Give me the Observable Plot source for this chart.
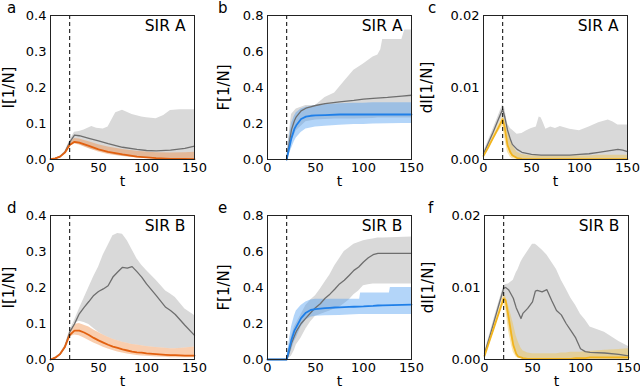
<!DOCTYPE html>
<html><head><meta charset="utf-8">
<script src="https://cdn.jsdelivr.net/npm/d3@7"></script>
<script src="https://cdn.jsdelivr.net/npm/@observablehq/plot@0.6"></script>
<style>
body{margin:0;background:#fff;}
#wrap{position:relative;width:640px;height:388px;overflow:hidden;font-family:"DejaVu Sans",sans-serif;}
#wrap svg{position:absolute;overflow:visible;}
.letter{position:absolute;font-size:15px;color:#000;line-height:1;}
</style></head>
<body><div id="wrap"></div>
<script>
// ---------- data ----------
const interventionT = 20;
const xTicks = [0, 50, 100, 150];
const panelLetters = ["a", "b", "c", "d", "e", "f"];
const panelTitles = ["SIR A", "SIR A", "SIR A", "SIR B", "SIR B", "SIR B"];
const yLabels = ["I[1/N]", "F[1/N]", "dI[1/N]", "I[1/N]", "F[1/N]", "dI[1/N]"];
const yTicksI = [0, 0.1, 0.2, 0.3, 0.4];
const yTicksF = [0, 0.2, 0.4, 0.6, 0.8];
const yTicksD = [0, 0.01, 0.02];

// panel a : I, SIR A
const aT = [0,5,10,15,20,25,30,40,50,60,75,90,100,110,125,140,150];
const aGray = [0.001,0.003,0.008,0.02,0.048,0.068,0.066,0.059,0.052,0.044,0.034,0.028,0.025,0.024,0.026,0.031,0.037];
const aOrange = [0.001,0.003,0.008,0.019,0.04,0.049,0.047,0.038,0.028,0.021,0.014,0.008,0.006,0.004,0.002,0.0015,0.001];
const aOrangeHi = [0.001,0.003,0.009,0.021,0.045,0.058,0.057,0.049,0.041,0.035,0.028,0.023,0.021,0.019,0.018,0.019,0.02];
const aOrangeLo = [0.001,0.002,0.007,0.017,0.036,0.043,0.04,0.03,0.021,0.014,0.008,0.004,0.003,0.002,0.001,0,0];
const aGT = [0,5,10,15,20,25,30,35,43,48,55,60,65,68,75,85,95,100,110,118,125,135,150];
const aGrayHi = [0.001,0.003,0.009,0.022,0.052,0.076,0.078,0.082,0.092,0.087,0.085,0.09,0.115,0.13,0.137,0.125,0.118,0.116,0.113,0.122,0.136,0.138,0.138];
const aGrayLo = [0.001,0.002,0.007,0.017,0.037,0.045,0.042,0.036,0.028,0.025,0.02,0.017,0.014,0.012,0.009,0.006,0.004,0.003,0.002,0.001,0.001,0,0];

// panel b : F, SIR A
const bT = [20,22,25,28,30,35,40,45,50,60,75,90,100,110,125,140,150];
const bGray = [0,0.07,0.166,0.215,0.237,0.27,0.285,0.293,0.3,0.31,0.32,0.328,0.335,0.34,0.345,0.352,0.357];
const bBlue = [0,0.05,0.12,0.17,0.19,0.225,0.238,0.243,0.245,0.247,0.25,0.25,0.25,0.25,0.25,0.25,0.25];
const bBlueHi = [0,0.1,0.2,0.24,0.26,0.28,0.29,0.295,0.3,0.305,0.31,0.312,0.313,0.315,0.315,0.315,0.315];
const bBlueLo = [0,0.02,0.06,0.1,0.12,0.15,0.17,0.175,0.18,0.185,0.19,0.195,0.195,0.197,0.198,0.2,0.2];
const bGT = [20,22,25,30,40,50,60,70,80,90,100,110,115,118,120,140,143,150];
const bGrayHi = [0,0.12,0.25,0.28,0.3,0.3,0.345,0.37,0.434,0.496,0.53,0.57,0.58,0.61,0.666,0.666,0.72,0.72];
const bGrayLo = [0,0.03,0.1,0.16,0.21,0.22,0.222,0.225,0.225,0.225,0.226,0.228,0.23,0.23,0.23,0.23,0.23,0.23];

// panel c : dI, SIR A
const cT = [0,5,10,15,20,22,25,28,30,35,40,50,60,75,90,100,110,120,130,140,145,150];
const cGray = [0.0008,0.0023,0.0038,0.0054,0.007,0.006,0.0041,0.0028,0.0021,0.0014,0.001,0.0007,0.0006,0.0006,0.0006,0.0007,0.0008,0.001,0.0012,0.0014,0.0013,0.0011];
const cYellow = [0.0005,0.0017,0.003,0.0043,0.0056,0.0045,0.002,0.001,0.0006,0.0002,0.0001,0.00005,0.00005,0.00005,0.00005,0.00005,0.00005,0.00005,0.00005,0.00005,0.00005,0.00005];
const cYellowHi = [0.0006,0.0019,0.0033,0.0047,0.006,0.0055,0.004,0.0028,0.002,0.001,0.0007,0.0005,0.0005,0.0005,0.0005,0.0005,0.0005,0.0006,0.0006,0.0006,0.0006,0.0006];
const cYellowLo = [0.0003,0.0014,0.0026,0.0037,0.0047,0.003,0.001,0.0003,0.0001,0,0,0,0,0,0,0,0,0,0,0,0,0];
const cGT = [0,5,10,15,20,22,25,28,30,35,40,45,50,55,58,60,62,65,70,75,80,90,100,110,120,130,135,140,150];
const cGrayHi = [0.001,0.0026,0.0042,0.0059,0.0076,0.0072,0.005,0.0043,0.0041,0.0035,0.0036,0.004,0.0043,0.0045,0.0059,0.0058,0.0052,0.0042,0.0045,0.0043,0.0046,0.0042,0.004,0.0045,0.0051,0.0055,0.0052,0.0048,0.0048];
const cGrayLo = [0.0005,0.0018,0.0032,0.0047,0.006,0.0045,0.002,0.0008,0.0004,0.0001,0,0,0,0,0,0,0,0,0,0,0,0,0,0,0,0,0,0,0];

// panel d : I, SIR B
const dT = [0,5,10,15,20,25,30,35,40,45,50,55,60,65,70,75,80,85,90,95,100,110,120,125,130,140,150];
const dGray = [0,0.005,0.015,0.035,0.076,0.099,0.127,0.145,0.161,0.178,0.189,0.196,0.205,0.229,0.243,0.256,0.254,0.258,0.244,0.229,0.21,0.178,0.145,0.136,0.125,0.095,0.067];
const dGrayHi = [0,0.005,0.016,0.038,0.08,0.108,0.14,0.17,0.2,0.23,0.256,0.29,0.317,0.344,0.35,0.348,0.33,0.305,0.28,0.262,0.247,0.22,0.19,0.182,0.172,0.14,0.122];
const dGrayLo = [0,0.005,0.016,0.037,0.075,0.101,0.106,0.103,0.097,0.086,0.076,0.068,0.062,0.056,0.052,0.048,0.045,0.042,0.04,0.038,0.036,0.033,0.031,0.03,0.03,0.032,0.035];
const dOrange = [0,0.005,0.015,0.035,0.068,0.08,0.08,0.075,0.068,0.06,0.053,0.047,0.041,0.036,0.032,0.028,0.025,0.022,0.02,0.019,0.017,0.015,0.013,0.012,0.012,0.011,0.011];
const dOrangeHi = [0,0.006,0.017,0.038,0.075,0.097,0.1,0.095,0.09,0.082,0.075,0.068,0.062,0.056,0.052,0.048,0.045,0.042,0.04,0.038,0.036,0.033,0.031,0.03,0.03,0.032,0.035];
const dOrangeLo = [0,0.004,0.013,0.031,0.062,0.068,0.066,0.06,0.053,0.046,0.04,0.034,0.029,0.025,0.021,0.018,0.015,0.013,0.011,0.01,0.009,0.007,0.006,0.005,0.005,0.005,0.005];

// panel e : F, SIR B
const eT = [0,20,22,25,28,30,35,40,45,50,55,60,65,70,75,80,85,90,95,100,105,110,115,120,150];
const eGray = [0,0,0.03,0.09,0.13,0.156,0.2,0.23,0.26,0.288,0.31,0.34,0.363,0.39,0.42,0.44,0.467,0.495,0.514,0.542,0.565,0.582,0.59,0.59,0.59];
const eGrayHi = [0,0,0.06,0.13,0.18,0.2,0.25,0.3,0.33,0.354,0.39,0.43,0.47,0.52,0.56,0.6,0.62,0.64,0.65,0.66,0.665,0.67,0.675,0.675,0.68];
const eGrayLo = [0,0,0.005,0.02,0.05,0.08,0.12,0.17,0.21,0.24,0.25,0.26,0.27,0.28,0.29,0.31,0.33,0.36,0.38,0.41,0.415,0.42,0.42,0.42,0.42];
const eBlue = [0,0,0.045,0.11,0.16,0.18,0.23,0.26,0.275,0.28,0.283,0.285,0.287,0.289,0.29,0.291,0.292,0.293,0.294,0.295,0.297,0.298,0.3,0.301,0.305];
const eBT = [0,20,22,25,28,30,35,40,45,50,60,75,90,96,97,110,127,128,150];
const eBlueHi = [0,0,0.08,0.18,0.24,0.27,0.3,0.32,0.33,0.335,0.335,0.335,0.335,0.335,0.37,0.37,0.37,0.4,0.4];
const eBlueLo = [0,0,0.01,0.05,0.1,0.12,0.18,0.22,0.235,0.24,0.243,0.245,0.248,0.25,0.25,0.25,0.25,0.25,0.25];

// panel f : dI, SIR B
const fT = [0,5,10,15,20,22,25,28,30,33,35,38,40,45,50,53,55,60,65,70,75,80,85,90,95,100,105,110,125,140,150];
const fGray = [0.0008,0.003,0.0053,0.0076,0.0099,0.01,0.0097,0.009,0.0085,0.0072,0.0066,0.0057,0.0064,0.0071,0.008,0.0095,0.0096,0.0094,0.0097,0.0082,0.0068,0.0062,0.005,0.004,0.003,0.0015,0.0011,0.001,0.0009,0.0007,0.0005];
const fGrayHi = [0.001,0.0033,0.0057,0.008,0.0102,0.0104,0.0105,0.0108,0.011,0.012,0.0125,0.0135,0.014,0.015,0.016,0.016,0.0158,0.0152,0.0145,0.0135,0.0125,0.011,0.0098,0.0085,0.0075,0.0063,0.0055,0.0045,0.0038,0.0025,0.0018];
const fGrayLo = [0.0006,0.0026,0.0048,0.007,0.009,0.008,0.005,0.003,0.002,0.001,0.0005,0.0002,0,0,0,0,0,0,0,0,0,0,0,0,0,0,0,0,0,0,0];
const fYellow = [0.0005,0.0025,0.0045,0.0065,0.0085,0.0082,0.006,0.0035,0.002,0.0008,0.0004,0.0003,0.0002,0.0001,0.0001,0.0001,0.0001,0.0001,0.0001,0.0001,0.0001,0.0001,0.0001,0.0001,0.0002,0.0002,0.0002,0.0003,0.0003,0.0003,0.0003];
const fYellowHi = [0.0007,0.0028,0.0049,0.0069,0.009,0.0088,0.0075,0.006,0.005,0.0033,0.0025,0.0016,0.0012,0.0009,0.0008,0.0008,0.0008,0.0008,0.0008,0.0008,0.0008,0.0009,0.0009,0.001,0.001,0.001,0.0011,0.0011,0.0013,0.0014,0.0015];
const fYellowLo = [0.0003,0.002,0.004,0.006,0.0078,0.007,0.004,0.002,0.001,0.0003,0.0002,0.0001,0,0,0,0,0,0,0,0,0,0,0,0,0,0,0,0,0,0,0];

// ---------- drawing ----------
const pts = (t, v) => t.map((x, i) => ({t: x, v: v[i]}));
const band = (t, lo, hi) => t.map((x, i) => ({t: x, lo: lo[i], hi: hi[i]}));

const palette = {
  orange: {line: "#e2600f", fill: "#f08a40"},
  blue: {line: "#1f7fe8", fill: "#4a9af0"},
  yellow: {line: "#f2b41c", fill: "#f0c040"}
};

const panels = [
  {left: 50, top: 15, ml: 50, yDomain: [0, 0.4], yTicks: yTicksI, fmt: ".1f", off: 47, col: "orange",
   grayBand: band(aGT, aGrayLo, aGrayHi), gray: pts(aT, aGray), colBand: band(aT, aOrangeLo, aOrangeHi), colLine: pts(aT, aOrange)},
  {left: 267, top: 15, ml: 50, yDomain: [0, 0.8], yTicks: yTicksF, fmt: ".1f", off: 49, col: "blue",
   grayBand: band(bGT, bGrayLo, bGrayHi), gray: pts(bT, bGray), colBand: band(bT, bBlueLo, bBlueHi), colLine: pts(bT, bBlue)},
  {left: 483, top: 15, ml: 62, yDomain: [0, 0.02], yTicks: yTicksD, fmt: ".2f", off: 62, col: "yellow",
   grayBand: band(cGT, cGrayLo, cGrayHi), gray: pts(cT, cGray), colBand: band(cT, cYellowLo, cYellowHi), colLine: pts(cT, cYellow)},
  {left: 50, top: 215, ml: 50, yDomain: [0, 0.4], yTicks: yTicksI, fmt: ".1f", off: 47, col: "orange",
   grayBand: band(dT, dGrayLo, dGrayHi), gray: pts(dT, dGray), colBand: band(dT, dOrangeLo, dOrangeHi), colLine: pts(dT, dOrange)},
  {left: 267, top: 215, ml: 50, yDomain: [0, 0.8], yTicks: yTicksF, fmt: ".1f", off: 49, col: "blue",
   grayBand: band(eT, eGrayLo, eGrayHi), gray: pts(eT, eGray), colBand: band(eBT, eBlueLo, eBlueHi), colLine: pts(eT, eBlue)},
  {left: 484, top: 215, ml: 62, yDomain: [0, 0.02], yTicks: yTicksD, fmt: ".2f", off: 62, col: "yellow",
   grayBand: band(fT, fGrayLo, fGrayHi), gray: pts(fT, fGray), colBand: band(fT, fYellowLo, fYellowHi), colLine: pts(fT, fYellow)}
];

const wrap = document.getElementById("wrap");
const FW = 144, FH = 144, MT = 15, MB = 29, MR = 8;

panels.forEach((p, i) => {
  const c = palette[p.col];
  const chart = Plot.plot({
    width: p.ml + FW + MR, height: MT + FH + MB,
    marginLeft: p.ml, marginRight: MR, marginTop: MT, marginBottom: MB,
    style: {fontFamily: "DejaVu Sans, sans-serif", fontSize: "13px", color: "#000", background: "transparent", overflow: "visible"},
    x: {domain: [0, 150]},
    y: {domain: p.yDomain},
    marks: [
      Plot.areaY(p.grayBand, {x: "t", y1: "lo", y2: "hi", fill: "#d9d9d9"}),
      Plot.areaY(p.colBand, {x: "t", y1: "lo", y2: "hi", fill: c.fill, fillOpacity: 0.42}),
      Plot.lineY(p.gray, {x: "t", y: "v", stroke: "#6e6e6e", strokeWidth: 1.3}),
      Plot.lineY(p.colLine, {x: "t", y: "v", stroke: c.line, strokeWidth: 1.8}),
      Plot.ruleX([interventionT], {stroke: "#000", strokeWidth: 1, strokeDasharray: "4,3"}),
      Plot.text([panelTitles[i]], {frameAnchor: "top-right", dx: -9, dy: 4, fontSize: 15.5, fill: "#000", textAnchor: "end"}),
      Plot.frame({stroke: "#222", strokeWidth: 1}),
      Plot.axisX({ticks: xTicks, tickSize: 0, tickPadding: 3, tickFormat: d => String(d), fontSize: 13, label: null}),
      Plot.axisX({ticks: [], label: "t", labelAnchor: "center", labelArrow: "none", labelOffset: 26, fontSize: 14}),
      Plot.axisY({ticks: p.yTicks, tickSize: 0, tickPadding: 4, tickFormat: d3.format(p.fmt), fontSize: 13, label: null}),
      Plot.axisY({ticks: [], label: yLabels[i], labelAnchor: "center", labelArrow: "none", labelOffset: p.off, fontSize: 15})
    ]
  });
  chart.style.left = (p.left - p.ml) + "px";
  chart.style.top = (p.top - MT) + "px";
  wrap.appendChild(chart);
});

const letterPos = [[7, 1], [218, 1], [428, 1], [7, 201], [218, 201], [428, 201]];
panelLetters.forEach((l, i) => {
  const d = document.createElement("div");
  d.className = "letter";
  d.textContent = l;
  d.style.left = letterPos[i][0] + "px";
  d.style.top = letterPos[i][1] + "px";
  wrap.appendChild(d);
});
</script>
</body></html>
